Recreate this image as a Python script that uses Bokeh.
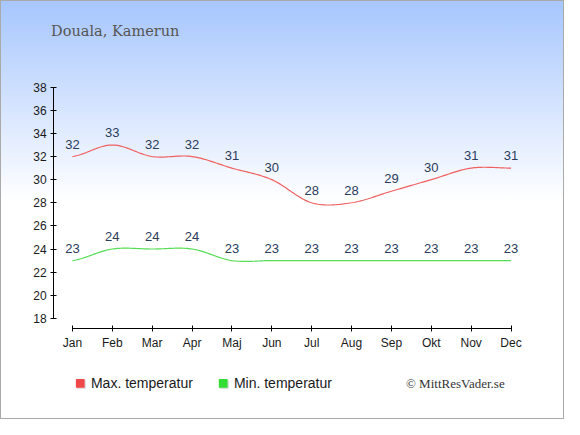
import numpy as np
from bokeh.plotting import figure
from bokeh.models import Range1d, FixedTicker, ColumnDataSource
from bokeh.core.properties import value
from bokeh.embed import file_html
from bokeh.resources import INLINE

# ---- data ----
months = ["Jan", "Feb", "Mar", "Apr", "Maj", "Jun", "Jul", "Aug", "Sep", "Okt", "Nov", "Dec"]
max_temp = [32, 33, 32, 32, 31, 30, 28, 28, 29, 30, 31, 31]
min_temp = [23, 24, 24, 24, 23, 23, 23, 23, 23, 23, 23, 23]
y_ticks = [18, 20, 22, 24, 26, 28, 30, 32, 34, 36, 38]
title_text = "Douala, Kamerun"
legend_labels = ["Max. temperatur", "Min. temperatur"]
legend_colors = ["#f04848", "#33dd33"]
credit = "\u00a9 MittResVader.se"

# ---- layout: reference-picture pixels -> data coordinates ----
REF_W, REF_H = 580, 435
W, H = 564, 419
JAN_PX, MONTH_PX = 74.0, 41.0
TOP_PX, TOP_VAL, UNIT_PX = 90.0, 38.0, 12.0


def rx(px):
    return (px - JAN_PX) / MONTH_PX


def ry(py):
    return TOP_VAL - (py - TOP_PX) / UNIT_PX


def smooth(vals, n=24):
    v = np.asarray(vals, dtype=float)
    N = len(v)
    m = np.empty(N)
    m[1:-1] = (v[2:] - v[:-2]) / 2.0
    m[0] = (v[1] - v[0]) / 2.0
    m[-1] = (v[-1] - v[-2]) / 2.0
    t = np.linspace(0, 1, n, endpoint=False)
    h00 = 2 * t**3 - 3 * t**2 + 1
    h10 = t**3 - 2 * t**2 + t
    h01 = -2 * t**3 + 3 * t**2
    h11 = t**3 - t**2
    xs, ys = [], []
    for i in range(N - 1):
        xs.extend(i + t)
        ys.extend(h00 * v[i] + h10 * m[i] + h01 * v[i + 1] + h11 * m[i + 1])
    xs.append(N - 1)
    ys.append(v[-1])
    return xs, ys


p = figure(width=W, height=H,
           x_range=Range1d(rx(0), rx(REF_W)), y_range=Range1d(ry(REF_H), ry(0)),
           output_backend="svg", toolbar_location=None,
           min_border_left=0, min_border_right=0,
           min_border_top=0, min_border_bottom=0)

p.background_fill_color = None
p.border_fill_color = None
p.outline_line_color = None
p.styles = {
    "background": "linear-gradient(to bottom, #a6c6fe 0%, #ffffff 48%, #ffffff 100%)",
    "outline": "1px solid #aaaaaa",
    "outline-offset": "-1px",
}
p.xgrid.visible = False
p.ygrid.visible = False

# axes (placed inside the frame at fixed positions)
x_idx = list(range(len(months)))
p.xaxis.ticker = FixedTicker(ticks=x_idx)
p.xaxis.major_label_overrides = {i: m for i, m in enumerate(months)}
p.xaxis.bounds = (0, len(months) - 1)
p.xaxis.fixed_location = ry(341)
p.yaxis.ticker = FixedTicker(ticks=y_ticks)
p.yaxis.bounds = (y_ticks[0], y_ticks[-1])
p.yaxis.fixed_location = rx(54.7)
for ax in (p.xaxis, p.yaxis):
    ax.axis_line_color = "#000000"
    ax.axis_line_width = 1
    ax.major_tick_line_color = "#000000"
    ax.major_tick_in = 3
    ax.major_tick_out = 3
    ax.minor_tick_line_color = None
    ax.major_label_text_font = "Liberation Sans"
    ax.major_label_text_font_size = "12px"
    ax.major_label_text_color = "#1a1a1a"
    ax.major_label_standoff = 4

# lines
mx, my = smooth(max_temp)
nx, ny = smooth(min_temp)
p.line(mx, my, line_color="#f06060", line_width=1.2)
p.line(nx, ny, line_color="#55dd55", line_width=1.2)

# data labels
src = ColumnDataSource(dict(x=x_idx, ymax=max_temp, ymin=min_temp,
                            tmax=[str(v) for v in max_temp],
                            tmin=[str(v) for v in min_temp]))
for ycol, tcol in (("ymax", "tmax"), ("ymin", "tmin")):
    p.text(x="x", y=ycol, text=tcol, source=src,
           text_font=value("Liberation Sans"), text_font_size="13px",
           text_color="#2b3c5c", text_align="center", text_baseline="middle",
           y_offset=-12.5)

# title
p.text(x=[rx(52)], y=[ry(32)], text=[title_text],
       text_font=value("DejaVu Serif"), text_font_size="14.5px",
       text_color="#555555", text_align="left", text_baseline="middle")

# legend
sq_left = [rx(77.5), rx(224.5)]
sq_right = [rx(86.5), rx(233.5)]
p.quad(left=[v + 1.2 / MONTH_PX for v in sq_left], right=[v + 1.2 / MONTH_PX for v in sq_right],
       top=ry(394), bottom=ry(403), fill_color="#bbbbbb", fill_alpha=0.6, line_color=None)
p.quad(left=sq_left, right=sq_right, top=ry(393), bottom=ry(402),
       fill_color=legend_colors, line_color=None)
p.text(x=[rx(93), rx(240)], y=[ry(397.5), ry(397.5)], text=legend_labels,
       text_font=value("Liberation Sans"), text_font_size="14px",
       text_color="#1a1a1a", text_align="left", text_baseline="middle")

p.text(x=[rx(417)], y=[ry(398)], text=[credit],
       text_font=value("Liberation Serif"), text_font_size="13px",
       text_color="#333333", text_align="left", text_baseline="middle")

open("out.html", "w").write(file_html(p, INLINE))
